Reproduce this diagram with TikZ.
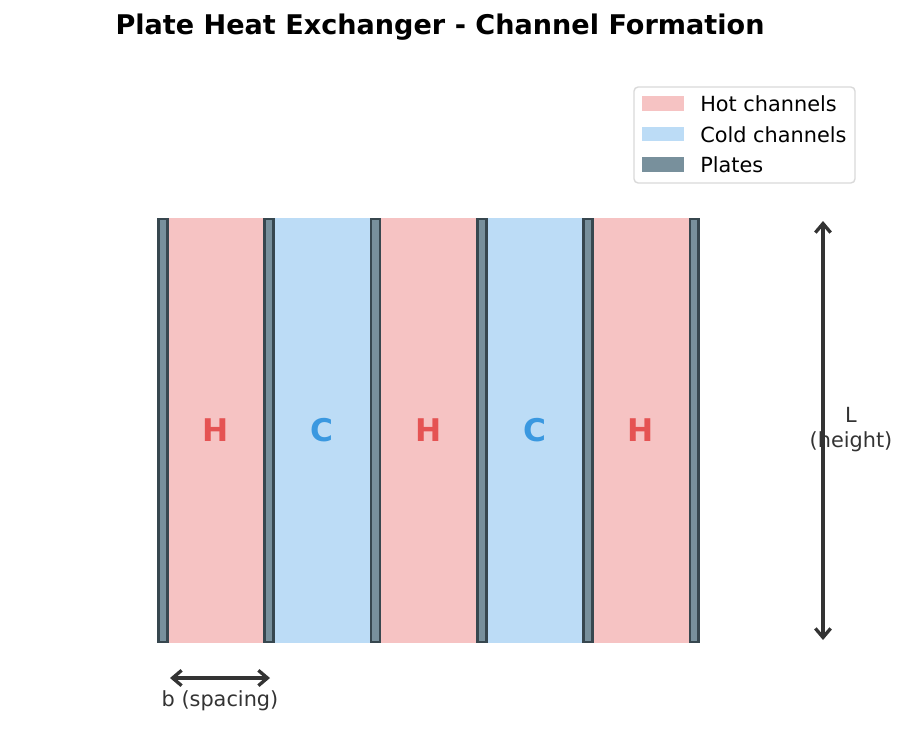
\documentclass[tikz,border=0pt]{standalone}
\usepackage{fontspec}
\setmainfont{DejaVu Sans}
\usetikzlibrary{arrows.meta, positioning}

\definecolor{hotfill}{RGB}{246,195,195}
\definecolor{coldfill}{RGB}{188,220,246}
\definecolor{platefill}{RGB}{120,144,156}
\definecolor{plateedge}{RGB}{55,71,79}
\definecolor{hottext}{RGB}{229,83,83}
\definecolor{coldtext}{RGB}{58,152,224}
\definecolor{dimgray}{RGB}{51,51,51}

\begin{document}
\begin{tikzpicture}[x=0.72pt, y=-0.72pt, >={Straight Barb[length=6.5pt,width=11pt]},
    font=\fontsize{15}{18}\selectfont,
    plate/.style={fill=platefill, draw=plateedge, line width=2pt},
    letter/.style={font=\fontsize{22.5}{25}\selectfont\bfseries},
    dimline/.style={<->, draw=dimgray, line width=2.4pt},
    dimlabel/.style={text=dimgray, align=center, inner sep=0pt}]
    \useasboundingbox (0,0) rectangle (907,729);

    % title
    \node[font=\fontsize{19.5}{23}\selectfont\bfseries] (title) at (440,27) {Plate Heat Exchanger - Channel Formation};

    % channels
    \foreach \i/\kind/\txt in {0/hot/H, 1/cold/C, 2/hot/H, 3/cold/C, 4/hot/H} {
        \fill[\kind fill] (162.5+106.3*\i,218) rectangle (162.5+106.3*\i+106.3,643);
        \node[letter, text=\kind text] (ch\i) at (215.65+106.3*\i,430) {\txt};
    }

    % plates
    \foreach \i in {0,...,5}
        \draw[plate] (158.5+106.3*\i,219) rectangle (167.3+106.3*\i,642);

    % dimension b
    \coordinate (b1) at (170,678);
    \coordinate (b2) at (270,678);
    \draw[dimline] (b1) -- (b2);
    \node[dimlabel] (blab) at (220,700.5) {b (spacing)};

    % dimension L
    \coordinate (l1) at (823,221);
    \coordinate (l2) at (823,640);
    \draw[dimline] (l1) -- (l2);
    \node[dimlabel] (llab) at (851,430) {L\\(height)};

    % legend
    \draw[gray!30, fill=white, rounded corners=3pt, line width=1pt] (634,87) rectangle (855,183);
    \fill[hotfill] (642,96) rectangle (684,111);
    \fill[coldfill] (642,127) rectangle (684,141);
    \fill[platefill] (642,157) rectangle (684,172);
    \node[anchor=west, inner sep=0pt] (leghot) at (700,104) {Hot channels};
    \node[anchor=west, inner sep=0pt] (legcold) at (700,134.5) {Cold channels};
    \node[anchor=west, inner sep=0pt] (legplate) at (700,165) {Plates};
\end{tikzpicture}
\end{document}
